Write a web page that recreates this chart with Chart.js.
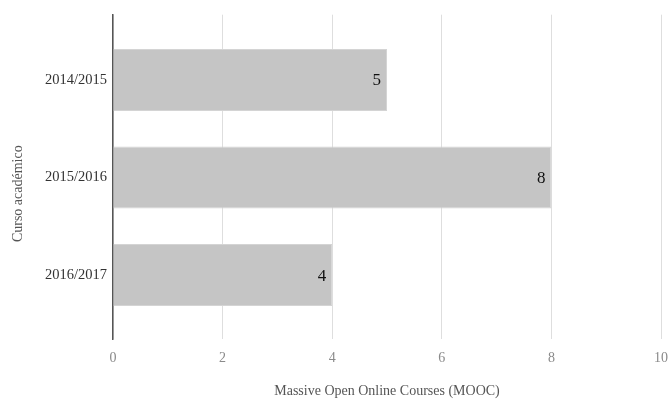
<!DOCTYPE html>
<html>
<head>
<meta charset="utf-8">
<script src="https://cdn.jsdelivr.net/npm/chart.js@4"></script>
<style>
  html, body { margin: 0; padding: 0; background: #fff; }
  #wrap { width: 670px; height: 400px; }
</style>
</head>
<body>
<div id="wrap"><canvas id="moocChart" width="670" height="400"></canvas></div>
<script>
// datos del gráfico
const cursos = ["2014/2015", "2015/2016", "2016/2017"];
const numMooc = [5, 8, 4];
const xTicks = [0, 2, 4, 6, 8, 10];
const tituloY = "Curso académico";
const tituloX = "Massive Open Online Courses (MOOC)";

const serif = "'Liberation Serif', 'Times New Roman', serif";

// etiqueta con el valor al final de cada barra + título del eje Y
const valorPlugin = {
    id: "valorBarra",
    afterDatasetsDraw(chart) {
        const ctx = chart.ctx;
        const meta = chart.getDatasetMeta(0);
        ctx.save();
        ctx.font = "17px " + serif;
        ctx.fillStyle = "#111";
        ctx.textAlign = "right";
        ctx.textBaseline = "middle";
        meta.data.forEach((bar, i) => {
            ctx.fillText(String(numMooc[i]), bar.x - 6, bar.y + 1);
        });
        ctx.restore();
    },
    afterDraw(chart) {
        // título del eje Y (desplazado hacia abajo como en el original)
        const ctx = chart.ctx;
        ctx.save();
        ctx.translate(18, chart.chartArea.top + 179);
        ctx.rotate(-Math.PI / 2);
        ctx.font = "14px " + serif;
        ctx.fillStyle = "#555";
        ctx.textAlign = "center";
        ctx.textBaseline = "middle";
        ctx.fillText(tituloY, 0, 0);
        ctx.restore();
    }
};

const ctx = document.getElementById("moocChart").getContext("2d");
new Chart(ctx, {
    type: "bar",
    data: {
        datasets: [{
            data: numMooc.map((v, i) => ({ x: v, y: i })),
            backgroundColor: "#c5c5c5",
            borderColor: "#d4d4d4",
            borderWidth: 1,
            barPercentage: 0.635,
            categoryPercentage: 1
        }]
    },
    options: {
        indexAxis: "y",
        responsive: false,
        animation: false,
        layout: { padding: { top: 14, right: 9, left: 0, bottom: 0 } },
        plugins: {
            legend: { display: false },
            tooltip: { enabled: false }
        },
        scales: {
            x: {
                type: "linear",
                min: 0,
                max: 10,
                afterBuildTicks: (scale) => { scale.ticks = xTicks.map(v => ({ value: v })); },
                afterFit: (scale) => { scale.paddingRight = 0; scale.paddingLeft = 0; },
                grid: { color: "#dedede", lineWidth: 1, drawTicks: false },
                border: { display: false },
                ticks: { color: "#8a8a8a", font: { family: serif, size: 14 }, padding: 11 },
                title: {
                    display: true,
                    text: tituloX,
                    color: "#555",
                    font: { family: serif, size: 14 },
                    padding: { top: 5, bottom: 0 }
                }
            },
            y: {
                type: "linear",
                reverse: true,
                offset: false,
                min: -0.67,
                max: 2.66,
                afterBuildTicks: (scale) => { scale.ticks = cursos.map((c, i) => ({ value: i })); },
                afterFit: (scale) => { scale.width = 113; },
                grid: { display: false, drawTicks: false, offset: false },
                border: { display: true, color: "#555", width: 1.5 },
                ticks: {
                    color: "#333",
                    font: { family: serif, size: 14.5 },
                    padding: 6,
                    callback: (v) => cursos[v] ?? ""
                },
                title: { display: false }
            }
        }
    },
    plugins: [valorPlugin]
});
</script>
</body>
</html>
